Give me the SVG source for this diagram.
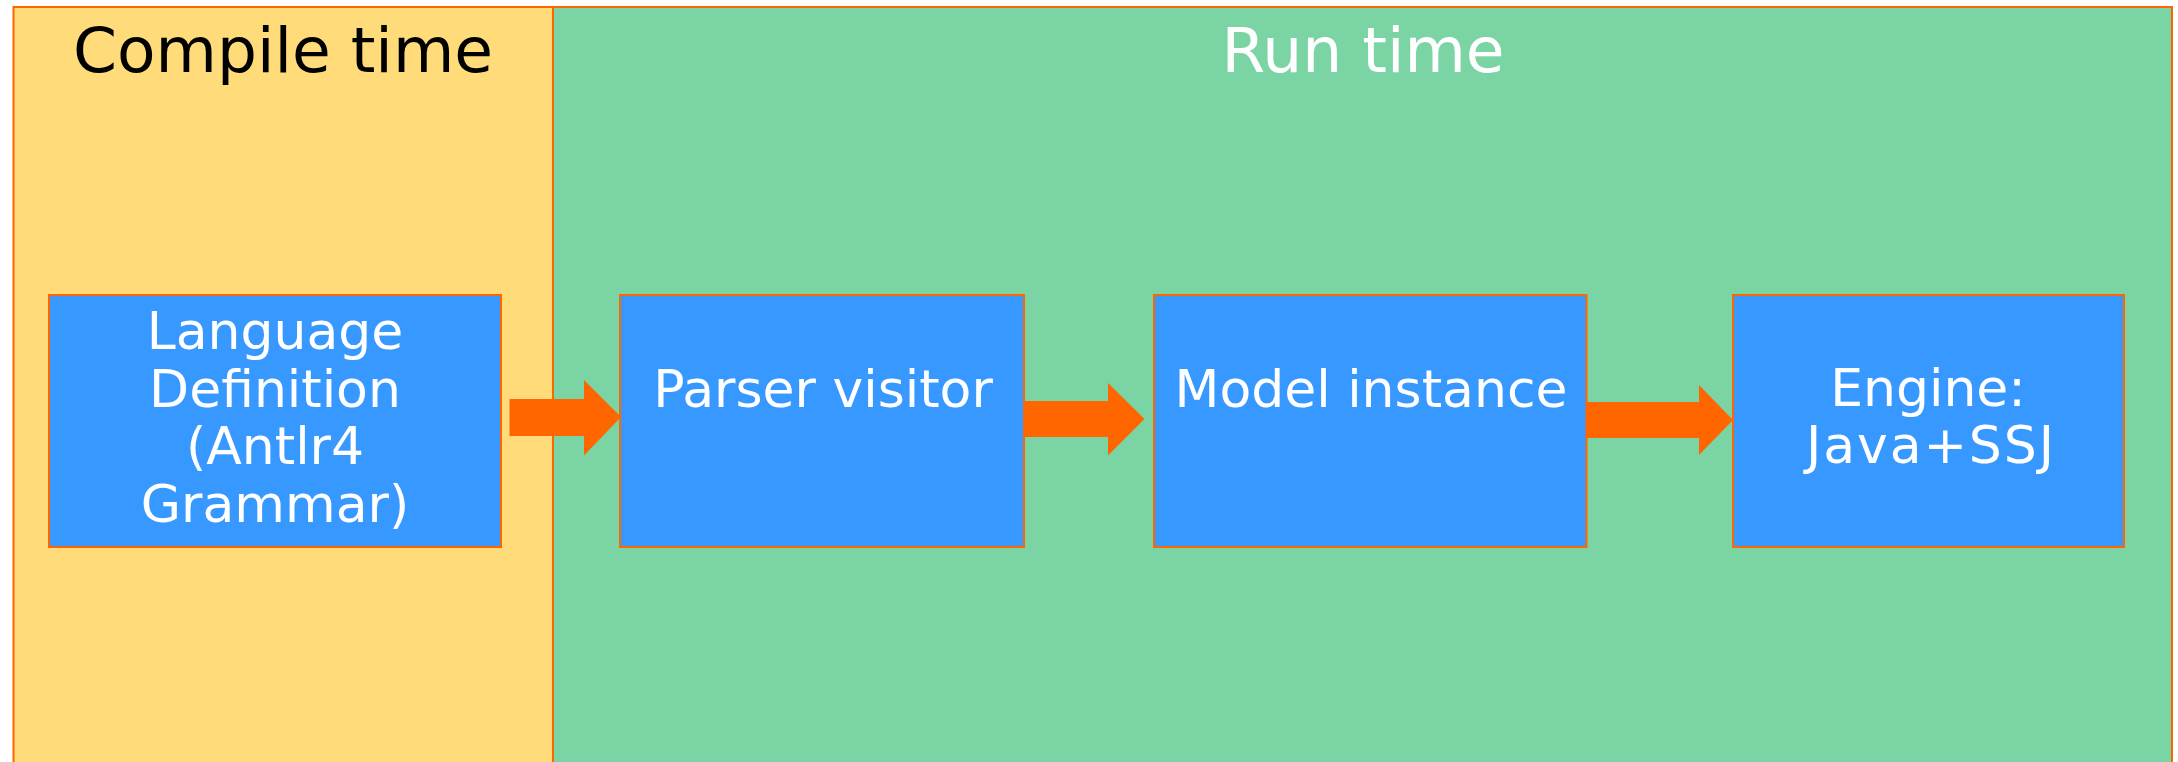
<svg xmlns="http://www.w3.org/2000/svg" width="2178" height="762" viewBox="0 0 2178 762">
<style>
.panel{stroke:#FF6600;stroke-width:2}
.box{fill:#3799FF;stroke:#FF6600;stroke-width:2}
.arrow{fill:#FF6600;stroke:none}
text{font-family:"DejaVu Sans","Verdana",sans-serif;text-anchor:middle}
.hdr{font-size:63px}
.lbl{font-size:52px;fill:#FFFFFF}
</style>
<rect width="2178" height="762" fill="#FFFFFF"/>
<g id="compile-time">
<rect class="panel" x="13.5" y="7" width="539.5" height="770" fill="#FFDB79"/>
<text class="hdr" x="283" y="72" fill="#000000">Compile time</text>
</g>
<g id="run-time">
<rect class="panel" x="553" y="7" width="1619" height="770" fill="#7BD4A4"/>
<text class="hdr" x="1363" y="72" fill="#FFFFFF">Run time</text>
</g>
<g id="language-definition">
<rect class="box" x="49" y="295" width="452" height="252"/>
<text class="lbl" x="275" y="349">Language</text>
<text class="lbl" x="275" y="407">Definition</text>
<text class="lbl" x="275" y="464">(Antlr4</text>
<text class="lbl" x="275" y="522">Grammar)</text>
</g>
<g id="parser-visitor">
<rect class="box" x="620" y="295" width="404" height="252"/>
<text class="lbl" x="823" y="407">Parser visitor</text>
</g>
<g id="model-instance">
<rect class="box" x="1154" y="295" width="432.5" height="252"/>
<text class="lbl" x="1371" y="407">Model instance</text>
</g>
<g id="engine">
<rect class="box" x="1733" y="295" width="391" height="252"/>
<text class="lbl" x="1928" y="406">Engine:</text>
<text class="lbl" x="1930" y="463" textLength="248" lengthAdjust="spacing">Java+SSJ</text>
</g>
<g id="connectors">
<polygon class="arrow" points="509.5,399 584,399 584,380 621,417 584,455.5 584,436 509.5,436"/>
<polygon class="arrow" points="1024,401 1108,401 1108,383 1144.5,419 1108,455.5 1108,437 1024,437"/>
<polygon class="arrow" points="1587,402 1699,402 1699,385 1733,420 1699,455 1699,438 1587,438"/>
</g>
</svg>
